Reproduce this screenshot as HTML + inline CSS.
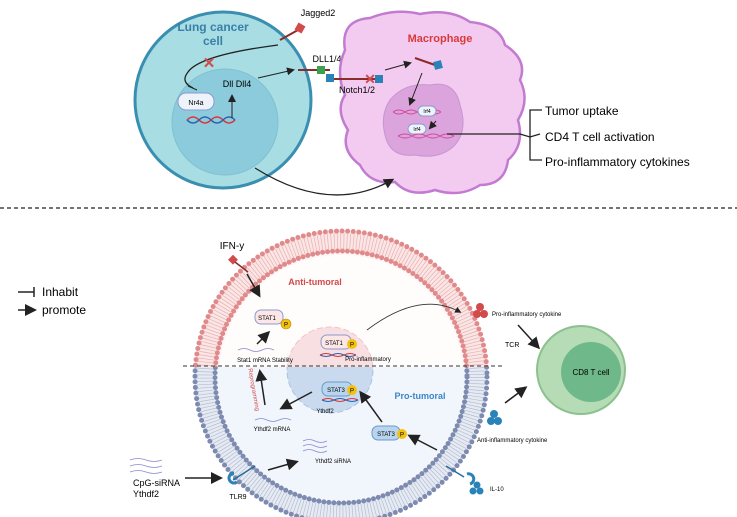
<!DOCTYPE html>
<html><head><meta charset="utf-8"><style>
html,body{margin:0;padding:0;background:#fff}
svg{display:block;font-family:"Liberation Sans",sans-serif}
</style></head><body>
<svg width="737" height="517" viewBox="0 0 737 517">
<defs>
<marker id="a" markerWidth="8" markerHeight="8" refX="6" refY="4" orient="auto"><path d="M0,0L8,4L0,8z" fill="#222"/></marker>
</defs>
<!-- lung cancer cell -->
<circle cx="223" cy="100" r="88" fill="#a8dde3" stroke="#3a8fb0" stroke-width="3"/>
<circle cx="225" cy="122" r="53" fill="#8ccbdb" stroke="#7fc0d2"/>
<text x="213" y="31" font-size="12" font-weight="bold" fill="#3a7fa8" text-anchor="middle">Lung cancer</text>
<text x="213" y="45" font-size="12" font-weight="bold" fill="#3a7fa8" text-anchor="middle">cell</text>
<rect x="178" y="93" width="36" height="17" rx="8" fill="#eef2fb" stroke="#8a9bd0"/>
<text x="196" y="105" font-size="7" text-anchor="middle">Nr4a</text>
<text x="237" y="87" font-size="9" text-anchor="middle">Dll Dll4</text>
<path d="M187,120q6,-6 12,0t12,0t12,0t12,0" fill="none" stroke="#d33" stroke-width="1.5"/>
<path d="M187,120q6,6 12,0t12,0t12,0t12,0" fill="none" stroke="#2b5fb0" stroke-width="1.5"/>
<line x1="232" y1="118" x2="232" y2="96" stroke="#222" marker-end="url(#a)"/>
<path d="M278,45 Q200,55 188,72 Q180,82 193,88" fill="none" stroke="#222" stroke-width="1.3"/>
<line x1="188" y1="86" x2="197" y2="90" stroke="#222"/>
<text x="209" y="68" font-size="15" font-weight="bold" fill="#d24a4a" text-anchor="middle">✕</text>
<line x1="280" y1="40" x2="298" y2="30" stroke="#8b2b2b" stroke-width="2"/>
<rect x="296" y="24" width="8" height="8" fill="#d24a4a" transform="rotate(30 300 28)"/>
<text x="318" y="16" font-size="9" text-anchor="middle">Jagged2</text>
<line x1="258" y1="78" x2="293" y2="70" stroke="#222" marker-end="url(#a)"/>
<text x="327" y="62" font-size="9" text-anchor="middle">DLL1/4</text>
<!-- macrophage -->
<path d="M345,50 Q340,20 370,18 Q395,8 420,14 Q450,8 470,22 Q500,25 505,45 Q528,60 520,80 Q530,100 518,120 Q525,145 508,160 Q505,185 480,185 Q460,198 435,190 Q410,198 395,182 Q370,185 360,165 Q340,150 348,130 Q335,110 345,95 Q335,72 345,50z" fill="#f3cbf0" stroke="#c27bd0" stroke-width="2.5"/>
<path d="M390,100 Q405,82 430,85 Q455,80 460,105 Q468,130 455,145 Q440,160 415,155 Q390,158 385,135 Q380,115 390,100z" fill="#dca4dc" stroke="#c795d0"/>
<text x="440" y="42" font-size="11" font-weight="bold" fill="#d83a3a" text-anchor="middle">Macrophage</text>
<line x1="298" y1="70" x2="330" y2="70" stroke="#8b2b2b" stroke-width="2"/>
<rect x="317" y="66" width="8" height="8" fill="#3aa14a"/>
<rect x="326" y="74" width="8" height="8" fill="#2a83b8"/>
<line x1="334" y1="79" x2="376" y2="79" stroke="#8b2b2b" stroke-width="2"/>
<rect x="375" y="75" width="8" height="8" fill="#2a83b8"/>
<text x="370" y="84" font-size="14" font-weight="bold" fill="#d24a4a" text-anchor="middle">✕</text>
<text x="357" y="93" font-size="9" text-anchor="middle">Notch1/2</text>
<line x1="385" y1="70" x2="410" y2="63" stroke="#222" marker-end="url(#a)"/>
<line x1="415" y1="58" x2="435" y2="65" stroke="#8b2b2b" stroke-width="2"/>
<rect x="434" y="61" width="8" height="8" fill="#2a83b8" transform="rotate(-15 438 65)"/>
<line x1="422" y1="73" x2="410" y2="104" stroke="#222" marker-end="url(#a)"/>
<path d="M393,112q6,-4 12,0t12,0t12,0t12,0" fill="none" stroke="#d04c9c" stroke-width="1"/>
<path d="M393,112q6,4 12,0t12,0t12,0t12,0" fill="none" stroke="#d04c9c" stroke-width="1"/>
<rect x="418" y="106" width="18" height="10" rx="5" fill="#eef2fb" stroke="#8a9bd0"/><text x="427" y="113" font-size="5" text-anchor="middle">Irf4</text>
<rect x="408" y="124" width="18" height="10" rx="5" fill="#eef2fb" stroke="#8a9bd0"/><text x="417" y="131" font-size="5" text-anchor="middle">Irf4</text>
<line x1="436" y1="121" x2="430" y2="128" stroke="#222" marker-end="url(#a)"/>
<path d="M398,136q7,-4 14,0t14,0t14,0t14,0" fill="none" stroke="#d04c9c" stroke-width="1"/>
<path d="M398,136q7,4 14,0t14,0t14,0t14,0" fill="none" stroke="#d04c9c" stroke-width="1"/>
<path d="M447,134 L520,134 L530,137 L540,134" fill="none" stroke="#222" stroke-width="1.3"/>
<path d="M542,110 L530,110 L530,160 L542,160" fill="none" stroke="#222" stroke-width="1.3"/>
<text x="545" y="115" font-size="12">Tumor uptake</text>
<text x="545" y="141" font-size="12">CD4 T cell activation</text>
<text x="545" y="166" font-size="12">Pro-inflammatory cytokines</text>
<path d="M255,168 Q330,215 392,180" fill="none" stroke="#222" stroke-width="1.3" marker-end="url(#a)"/>
<line x1="0" y1="208" x2="737" y2="208" stroke="#222" stroke-width="1.3" stroke-dasharray="4,3"/>
<!-- bottom big cell -->
<clipPath id="top"><rect x="0" y="200" width="737" height="167"/></clipPath>
<clipPath id="bot"><rect x="0" y="367" width="737" height="150"/></clipPath>
<g clip-path="url(#top)">
<circle cx="341" cy="377" r="136" fill="#fdf6f6" stroke="#fbe6e6" stroke-width="20"/>
<circle cx="341" cy="377" r="136" fill="none" stroke="#eab0b2" stroke-width="16" stroke-dasharray="0.7,2.5"/>
<circle cx="341" cy="377" r="146" fill="none" stroke="#e08a8c" stroke-width="5" stroke-linecap="round" stroke-dasharray="0,5.6"/>
<circle cx="341" cy="377" r="126" fill="none" stroke="#e08a8c" stroke-width="5" stroke-linecap="round" stroke-dasharray="0,5"/>
<circle cx="341" cy="377" r="122" fill="#fffcfc"/>
<circle cx="330" cy="370" r="43" fill="#f8dfe2" stroke="#f0c4c8" stroke-dasharray="6,3"/>
</g>
<g clip-path="url(#bot)">
<circle cx="341" cy="377" r="136" fill="#f3f6fb" stroke="#e6ebf3" stroke-width="20"/>
<circle cx="341" cy="377" r="136" fill="none" stroke="#b4bdd2" stroke-width="16" stroke-dasharray="0.7,2.5"/>
<circle cx="341" cy="377" r="146" fill="none" stroke="#7d8bb0" stroke-width="5" stroke-linecap="round" stroke-dasharray="0,5.6"/>
<circle cx="341" cy="377" r="126" fill="none" stroke="#7d8bb0" stroke-width="5" stroke-linecap="round" stroke-dasharray="0,5"/>
<circle cx="341" cy="377" r="122" fill="#f1f6fc"/>
<circle cx="330" cy="370" r="43" fill="#c9daee" stroke="#a9c2e2" stroke-dasharray="6,3"/>
</g>
<line x1="183" y1="366" x2="505" y2="366" stroke="#333" stroke-dasharray="4,3"/>
<text x="315" y="285" font-size="9" font-weight="bold" fill="#d24a4a" text-anchor="middle">Anti-tumoral</text>
<text x="420" y="399" font-size="9" font-weight="bold" fill="#3a86c8" text-anchor="middle">Pro-tumoral</text>
<text x="232" y="249" font-size="10" text-anchor="middle">IFN-y</text>
<rect x="230" y="256" width="7" height="7" fill="#d24a4a" transform="rotate(45 233 259)"/>
<line x1="235" y1="262" x2="248" y2="272" stroke="#8b2b2b" stroke-width="1.5"/>
<line x1="247" y1="274" x2="259" y2="295" stroke="#222" stroke-width="1.5" marker-end="url(#a)"/>
<rect x="255" y="310" width="28" height="14" rx="6" fill="#fde6e6" stroke="#8a9bd0"/><text x="267" y="320" font-size="6" text-anchor="middle">STAT1</text>
<circle cx="286" cy="324" r="5" fill="#f4c20d" stroke="#b08a00" stroke-width=".6"/><text x="286" y="326.5" font-size="6" text-anchor="middle">P</text>
<line x1="257" y1="344" x2="268" y2="333" stroke="#222" stroke-width="1.5" marker-end="url(#a)"/>
<path d="M238,350q6,-3 12,0t12,0t12,0" fill="none" stroke="#8a8ad0" stroke-width=".8"/>
<text x="265" y="362" font-size="6" text-anchor="middle">Stat1 mRNA Stability</text>
<rect x="321" y="335" width="30" height="14" rx="6" fill="#fde6e6" stroke="#8a9bd0"/><text x="334" y="345" font-size="6" text-anchor="middle">STAT1</text>
<circle cx="352" cy="344" r="5" fill="#f4c20d"/><text x="352" y="346.5" font-size="6" text-anchor="middle">P</text>
<path d="M320,355q6,-3 12,0t12,0t12,0" fill="none" stroke="#d33"/><path d="M320,355q6,3 12,0t12,0t12,0" fill="none" stroke="#2b5fb0"/>
<text x="368" y="361" font-size="6" text-anchor="middle">Pro-inflammatory</text>
<path d="M367,330 Q420,290 460,312" fill="none" stroke="#333" stroke-width=".8" marker-end="url(#a)"/>
<circle cx="480" cy="307" r="4" fill="#d24a4a"/><circle cx="477" cy="314" r="4" fill="#d24a4a"/><circle cx="484" cy="314" r="4" fill="#d24a4a"/>
<text x="492" y="316" font-size="6">Pro-inflammatory cytokine</text>
<text x="505" y="347" font-size="7">TCR</text>
<line x1="518" y1="325" x2="538" y2="347" stroke="#222" stroke-width="1.5" marker-end="url(#a)"/>
<circle cx="581" cy="370" r="44" fill="#b5dcb5" stroke="#8cc08f" stroke-width="2"/>
<circle cx="591" cy="372" r="30" fill="#6eb88a"/>
<text x="591" y="375" font-size="8" text-anchor="middle">CD8 T cell</text>
<line x1="505" y1="403" x2="525" y2="388" stroke="#222" stroke-width="1.5" marker-end="url(#a)"/>
<circle cx="494" cy="414" r="4" fill="#2a83b8"/><circle cx="491" cy="421" r="4" fill="#2a83b8"/><circle cx="498" cy="421" r="4" fill="#2a83b8"/>
<text x="477" y="442" font-size="6">Anti-inflammatory cytokine</text>
<rect x="322" y="382" width="30" height="14" rx="6" fill="#b8d4ee" stroke="#6a9ac8"/><text x="336" y="392" font-size="6" text-anchor="middle">STAT3</text>
<circle cx="352" cy="390" r="5" fill="#f4c20d"/><text x="352" y="392.5" font-size="6" text-anchor="middle">P</text>
<path d="M322,400q6,-3 12,0t12,0t12,0" fill="none" stroke="#d33"/><path d="M322,400q6,3 12,0t12,0t12,0" fill="none" stroke="#2b5fb0"/>
<text x="325" y="413" font-size="6" text-anchor="middle">Ythdf2</text>
<line x1="312" y1="392" x2="282" y2="408" stroke="#222" stroke-width="1.5" marker-end="url(#a)"/>
<line x1="265" y1="405" x2="260" y2="372" stroke="#222" stroke-width="1.5" marker-end="url(#a)"/>
<text x="252" y="390" font-size="6" fill="#d24a4a" transform="rotate(80 252 390)" text-anchor="middle">Reprogramming</text>
<path d="M255,420q6,-3 12,0t12,0t12,0" fill="none" stroke="#8a8ad0" stroke-width=".8"/>
<text x="272" y="431" font-size="6" text-anchor="middle">Ythdf2 mRNA</text>
<rect x="372" y="426" width="28" height="14" rx="6" fill="#b8d4ee" stroke="#6a9ac8"/><text x="386" y="436" font-size="6" text-anchor="middle">STAT3</text>
<circle cx="402" cy="434" r="5" fill="#f4c20d"/><text x="402" y="436.5" font-size="6" text-anchor="middle">P</text>
<line x1="382" y1="422" x2="361" y2="393" stroke="#222" stroke-width="1.5" marker-end="url(#a)"/>
<line x1="437" y1="450" x2="410" y2="436" stroke="#222" stroke-width="1.5" marker-end="url(#a)"/>
<path d="M303,441q6,-3 12,0t12,0M303,446q6,-3 12,0t12,0M303,451q6,-3 12,0t12,0" fill="none" stroke="#8a8ad0" stroke-width=".8"/>
<text x="315" y="463" font-size="6">Ythdf2 siRNA</text>
<line x1="268" y1="470" x2="296" y2="462" stroke="#222" stroke-width="1.5" marker-end="url(#a)"/>
<line x1="233" y1="480" x2="255" y2="466" stroke="#2a6d9a" stroke-width="1.5"/>
<path d="M234,473 a5,5 0 1 0 3,9" fill="none" stroke="#2a83b8" stroke-width="3"/>
<text x="238" y="499" font-size="7" text-anchor="middle">TLR9</text>
<line x1="185" y1="478" x2="220" y2="478" stroke="#222" stroke-width="1.5" marker-end="url(#a)"/>
<path d="M130,460q8,-3 16,0t16,0M130,466q8,-3 16,0t16,0M130,472q8,-3 16,0t16,0" fill="none" stroke="#8a8ad0" stroke-width=".8"/>
<text x="133" y="486" font-size="9">CpG-siRNA</text>
<text x="133" y="497" font-size="9">Ythdf2</text>
<line x1="446" y1="466" x2="464" y2="477" stroke="#2a6d9a" stroke-width="1.5"/>
<path d="M467,474 a5,5 0 1 1 3,10" fill="none" stroke="#2a83b8" stroke-width="3"/>
<circle cx="477" cy="485" r="3.5" fill="#2a83b8"/><circle cx="473" cy="491" r="3.5" fill="#2a83b8"/><circle cx="480" cy="491" r="3.5" fill="#2a83b8"/>
<text x="490" y="491" font-size="6">IL-10</text>
<!-- legend -->
<line x1="18" y1="292" x2="34" y2="292" stroke="#222" stroke-width="1.5"/><line x1="34" y1="287" x2="34" y2="297" stroke="#222" stroke-width="1.5"/>
<text x="42" y="296" font-size="12">Inhabit</text>
<line x1="18" y1="310" x2="34" y2="310" stroke="#222" stroke-width="1.5" marker-end="url(#a)"/>
<text x="42" y="314" font-size="12">promote</text>
</svg>
</body></html>
